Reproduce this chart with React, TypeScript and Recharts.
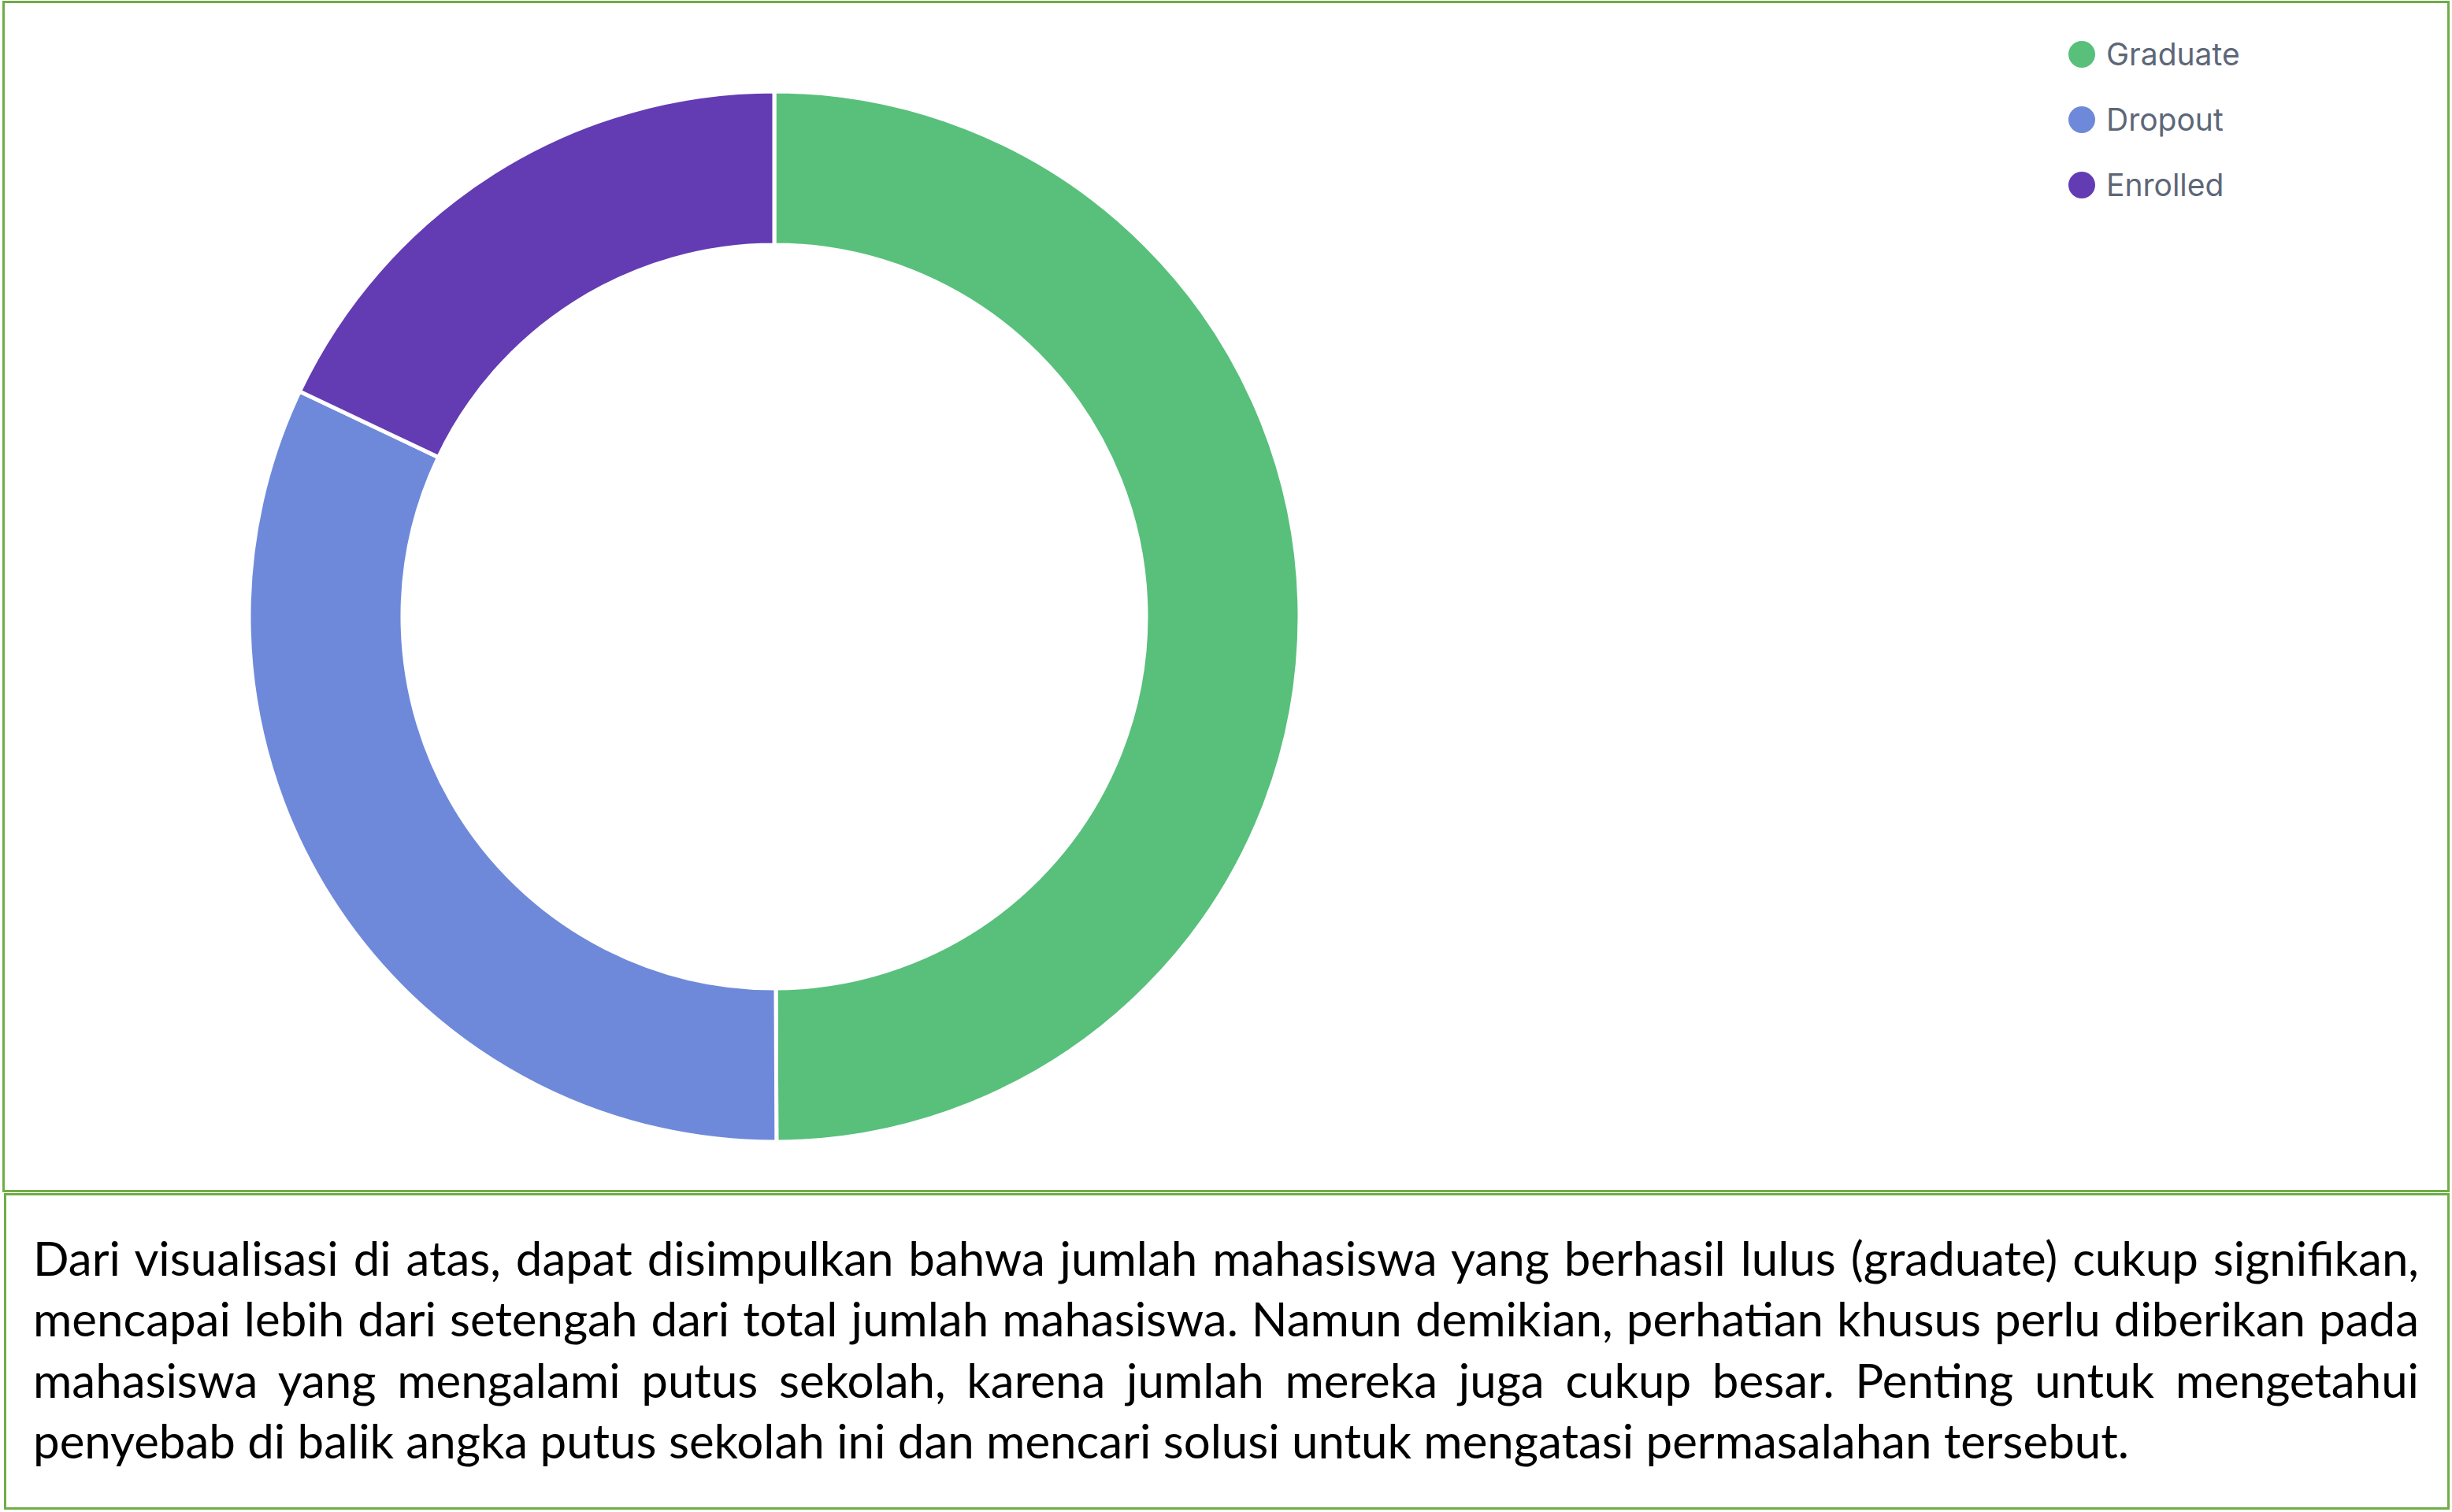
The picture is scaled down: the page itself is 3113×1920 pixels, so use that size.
import React from 'react';
import { PieChart, Pie, Cell, Legend } from 'recharts';

// student status counts
const statusNames = ['Graduate', 'Dropout', 'Enrolled'];
const studentCounts = [2209, 1421, 794];
const sliceColors = ['#58C07B', '#6F89DA', '#633CB4'];

const summaryLines = [
  'Dari visualisasi di atas, dapat disimpulkan bahwa jumlah mahasiswa yang berhasil lulus (graduate) cukup signifikan,',
  'mencapai lebih dari setengah dari total jumlah mahasiswa. Namun demikian, perhatian khusus perlu diberikan pada',
  'mahasiswa yang mengalami putus sekolah, karena jumlah mereka juga cukup besar. Penting untuk mengetahui',
  'penyebab di balik angka putus sekolah ini dan mencari solusi untuk mengatasi permasalahan tersebut.',
];

const chartData = statusNames.map((name, i) => ({ name, value: studentCounts[i] }));

const renderLegend = (props: any) => {
  // keep the data order, not alphabetical
  const items = [...(props.payload || [])].sort(
    (a: any, b: any) => statusNames.indexOf(a.value) - statusNames.indexOf(b.value)
  );
  return (
    <div>
      {items.map((entry: any) => (
        <div key={entry.value} style={{ display: 'flex', alignItems: 'center', height: 83 }}>
          <svg width={34} height={34} style={{ marginRight: 14 }}>
            <circle cx={17} cy={17} r={17} fill={entry.color} />
          </svg>
          <span style={{ fontFamily: 'Inter', fontSize: 39, color: '#5d6778' }}>{entry.value}</span>
        </div>
      ))}
    </div>
  );
};

export default function App() {
  return (
    <div style={{ position: 'relative', width: 3113, height: 1920, background: '#fff' }}>
      <style>{'body{margin:0}'}</style>

      {/* chart box */}
      <div
        style={{
          position: 'absolute', left: 3, top: 1, width: 3107, height: 1513,
          border: '3px solid #70AD47', boxSizing: 'border-box',
        }}
      />
      <div style={{ position: 'absolute', left: 0, top: 0 }}>
        <PieChart width={3113} height={1513}>
          <Pie
            data={chartData}
            dataKey="value"
            nameKey="name"
            cx={978}
            cy={778}
            innerRadius={472}
            outerRadius={667}
            startAngle={90}
            endAngle={-270}
            stroke="#ffffff"
            strokeWidth={5}
            isAnimationActive={false}
          >
            {chartData.map((d, i) => (
              <Cell key={d.name} fill={sliceColors[i]} />
            ))}
          </Pie>
          <Legend
            layout="vertical"
            content={renderLegend}
            itemSorter={null as any}
            wrapperStyle={{ left: 2626, top: 27, width: 320 }}
          />
        </PieChart>
      </div>

      {/* text box */}
      <div
        style={{
          position: 'absolute', left: 5, top: 1515, width: 3105, height: 402,
          border: '3px solid #70AD47', boxSizing: 'border-box',
        }}
      >
        <div style={{ position: 'absolute', left: 34, top: 41, width: 3029, fontFamily: 'Lato', fontSize: 60, lineHeight: '77.3px', color: '#000' }}>
          {summaryLines.map((line, i) => (
            <div
              key={i}
              style={{
                textAlign: 'justify',
                textAlignLast: i < summaryLines.length - 1 ? 'justify' : 'left',
                whiteSpace: 'nowrap',
              }}
            >
              {line}
            </div>
          ))}
        </div>
      </div>
    </div>
  );
}
